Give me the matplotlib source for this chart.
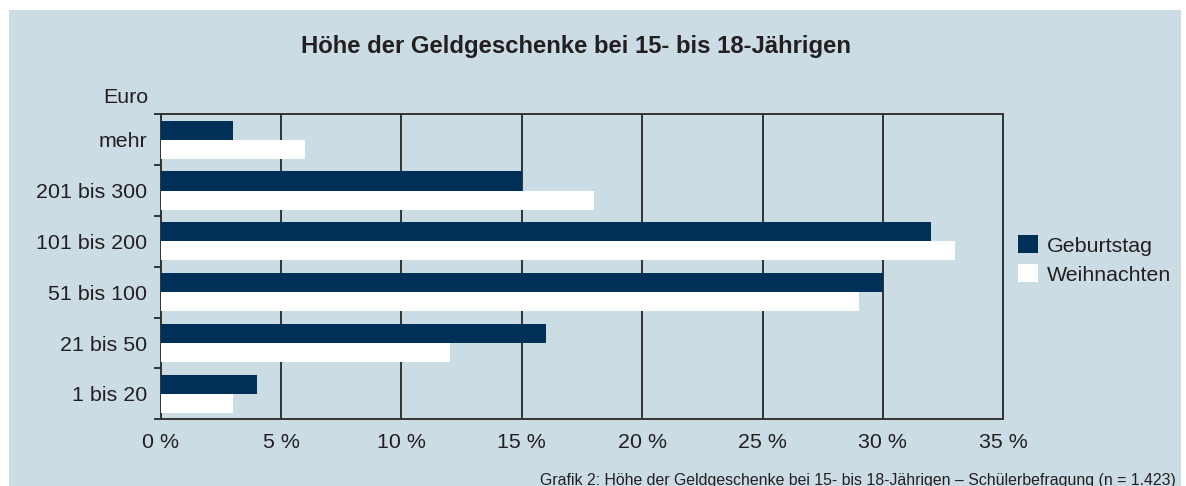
import numpy as np
import matplotlib
matplotlib.use('Agg')
import matplotlib.pyplot as plt
from matplotlib.patches import Rectangle, Patch

plt.rcParams['font.family'] = ['Liberation Sans', 'DejaVu Sans']

# Daten (von unten nach oben)
kategorien = ['1 bis 20', '21 bis 50', '51 bis 100', '101 bis 200', '201 bis 300', 'mehr']
geburtstag = [4, 16, 30, 32, 15, 3]
weihnachten = [3, 12, 29, 33, 18, 6]
xticks = [0, 5, 10, 15, 20, 25, 30, 35]
xticklabels = ['0 %', '5 %', '10 %', '15 %', '20 %', '25 %', '30 %', '35 %']

navy = '#003057'
bg = '#ccdce5'
txt = '#231f20'
linec = '#333333'

W, H = 1186, 486
fig = plt.figure(figsize=(W / 100, H / 100), dpi=100, facecolor='white')

# hellblauer Hintergrund
fig.patches.append(Rectangle((9 / W, 0), (1181 - 9) / W, 1 - 10 / H,
                             transform=fig.transFigure, facecolor=bg,
                             edgecolor='none', zorder=-10))

ax = fig.add_axes([160.7 / W, 1 - 419.3 / H, (1003.3 - 160.7) / W, (419.3 - 114.3) / H])
ax.set_facecolor(bg)

y = np.arange(len(kategorien))
h = 0.375
ax.barh(y + h / 2, geburtstag, height=h, color=navy, zorder=3)
ax.barh(y - h / 2, weihnachten, height=h, color='white', zorder=3)

ax.set_xlim(0, 35)
ax.set_ylim(-0.5, len(kategorien) - 0.5)
ax.set_xticks(xticks)
ax.set_xticklabels(xticklabels)
ax.set_yticks(y)
ax.set_yticklabels(kategorien)
ax.set_yticks(np.arange(len(kategorien) + 1) - 0.5, minor=True)

ax.tick_params(axis='x', length=0, pad=10, labelsize=15.4, labelcolor=txt)
ax.tick_params(axis='y', which='major', length=0, pad=10, labelsize=15.4, labelcolor=txt)
ax.tick_params(axis='y', which='minor', length=5, width=1.4, color=linec, direction='out')

ax.grid(axis='x', color=linec, linewidth=1.4, zorder=1)
for s in ax.spines.values():
    s.set_color(linec)
    s.set_linewidth(1.4)

fig.text(576 / W, 1 - 46 / H, 'Höhe der Geldgeschenke bei 15- bis 18-Jährigen',
         ha='center', va='center', fontsize=17.2, fontweight='bold', color=txt)
fig.text(148 / W, 1 - 97 / H, 'Euro', ha='right', va='center', fontsize=15.4, color=txt)

handles = [Patch(facecolor=navy, edgecolor='none'), Patch(facecolor='white', edgecolor='none')]
fig.legend(handles, ['Geburtstag', 'Weihnachten'], loc='center left',
           bbox_to_anchor=(999 / W, 1 - 260 / H), frameon=False, fontsize=15.4,
           handlelength=0.9, handleheight=0.9, handletextpad=0.45,
           labelspacing=0.4, labelcolor=txt)

fig.text(1176 / W, 1 - 480 / H,
         'Grafik 2: Höhe der Geldgeschenke bei 15- bis 18-Jährigen – Schülerbefragung (n = 1.423)',
         ha='right', va='center', fontsize=11.4, color=txt)

fig.savefig('out.png', dpi=100, facecolor='white')
